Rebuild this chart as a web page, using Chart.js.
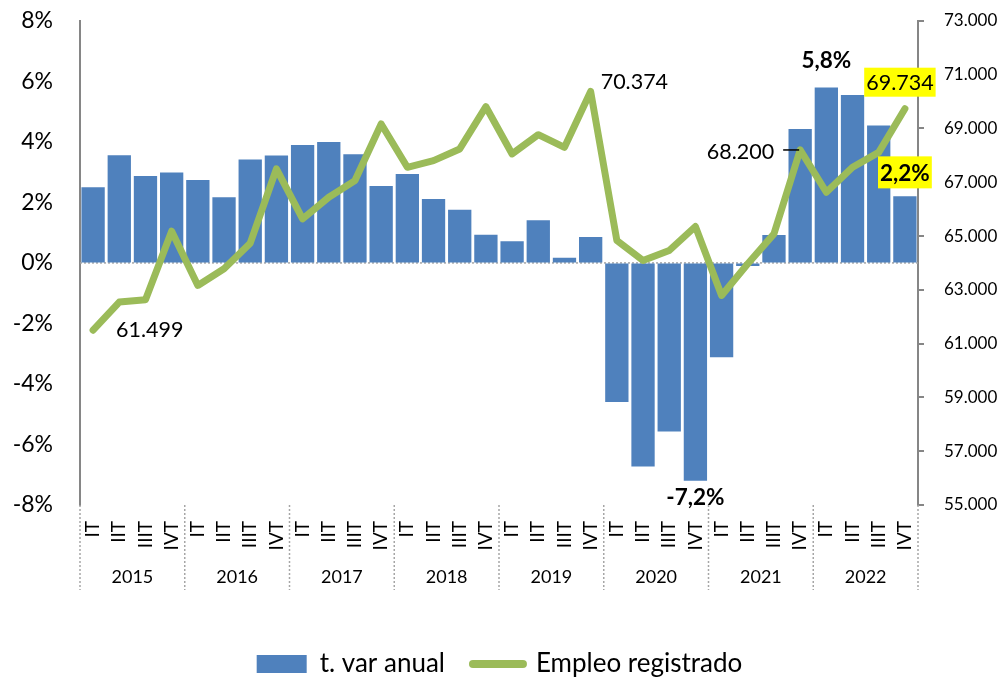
<!DOCTYPE html>
<html>
<head>
<meta charset="utf-8">
<script src="https://cdn.jsdelivr.net/npm/chart.js@4.4.1/dist/chart.umd.min.js"></script>
<style>
  html, body { margin: 0; padding: 0; background: #fff; }
  #wrap { width: 999px; height: 681px; }
</style>
</head>
<body>
<div id="wrap"><canvas id="myChart" width="999" height="681"></canvas></div>
<script>
// quarters and years
const quarters = ["IT", "IIT", "IIIT", "IVT"];
const years = ["2015", "2016", "2017", "2018", "2019", "2020", "2021", "2022"];

// t. var anual (%), left axis
const tasaVar = [2.5, 3.56, 2.87, 2.99, 2.74, 2.17, 3.42, 3.55,
                 3.9, 4.0, 3.59, 2.54, 2.94, 2.11, 1.76, 0.93,
                 0.72, 1.41, 0.17, 0.86, -4.6, -6.73, -5.57, -7.2,
                 -3.12, -0.1, 0.92, 4.43, 5.8, 5.55, 4.54, 2.2];

// Empleo registrado, right axis
const empleo = [61499, 62544, 62632, 65179, 63163, 63783, 64733, 67495,
                65639, 66441, 67061, 69166, 67555, 67803, 68237, 69808,
                68052, 68768, 68297, 70374, 64834, 64091, 64462, 65353,
                62792, 63969, 65082, 68200, 66627, 67555, 68111, 69734];

const labels = [];
years.forEach(function () { quarters.forEach(function (q) { labels.push(q); }); });

const blue = "#4F81BD";
const green = "#9BBB59";
const grey = "#868686";
const fontFamily = "Lato, 'Open Sans', sans-serif";

function fmtMiles(v) {
    return (v / 1000).toFixed(3);
}
function fmtPct(v) {
    return v.toFixed(1).replace(".", ",") + "%";
}

/* zero line, year groups and value labels */
const extras = {
    id: "extras",
    beforeDatasetsDraw(chart) {
        const ctx = chart.ctx;
        const area = chart.chartArea;
        const y0 = chart.scales.y.getPixelForValue(0);
        ctx.save();
        ctx.strokeStyle = "#A6A6A6";
        ctx.lineWidth = 1.5;
        ctx.setLineDash([2, 2]);
        ctx.beginPath();
        ctx.moveTo(area.left, y0);
        ctx.lineTo(area.right, y0);
        ctx.stroke();
        ctx.restore();
    },
    afterDraw(chart) {
        const ctx = chart.ctx;
        const x = chart.scales.x;
        const y = chart.scales.y;
        const y1 = chart.scales.y1;
        const area = chart.chartArea;
        const step = x.getPixelForValue(1) - x.getPixelForValue(0);

        // year separators and labels
        ctx.save();
        ctx.strokeStyle = "#A6A6A6";
        ctx.lineWidth = 1.5;
        ctx.setLineDash([2, 2]);
        for (let g = 0; g <= years.length; g++) {
            const xp = x.getPixelForValue(g * 4) - step / 2;
            ctx.beginPath();
            ctx.moveTo(xp, area.bottom);
            ctx.lineTo(xp, area.bottom + 85);
            ctx.stroke();
        }
        ctx.setLineDash([]);
        ctx.fillStyle = "#000";
        ctx.font = "18px " + fontFamily;
        ctx.textAlign = "center";
        ctx.textBaseline = "middle";
        years.forEach(function (yr, g) {
            const xp = x.getPixelForValue(g * 4 + 1.5);
            ctx.fillText(yr, xp, area.bottom + 72);
        });

        // value labels on the line
        ctx.font = "21.5px " + fontFamily;
        ctx.textAlign = "left";
        ctx.fillText(fmtMiles(empleo[0]), x.getPixelForValue(0) + 23, y1.getPixelForValue(empleo[0]));
        ctx.fillText(fmtMiles(empleo[19]), x.getPixelForValue(19) + 10, y1.getPixelForValue(empleo[19]) - 9);

        ctx.textAlign = "right";
        const p27 = x.getPixelForValue(27);
        const v27 = y1.getPixelForValue(empleo[27]);
        ctx.fillText(fmtMiles(empleo[27]), p27 - 26, v27 + 2);
        ctx.lineWidth = 1.5;
        ctx.strokeStyle = "#000";
        ctx.beginPath();
        ctx.moveTo(p27 - 17, v27);
        ctx.lineTo(p27 - 1, v27);
        ctx.stroke();

        // last value, yellow box
        const last = empleo.length - 1;
        const lx = x.getPixelForValue(last) - 5;
        const ly = y1.getPixelForValue(empleo[last]) - 27;
        const lt = fmtMiles(empleo[last]);
        const lw = ctx.measureText(lt).width + 4;
        ctx.fillStyle = "#FFFF00";
        ctx.fillRect(lx - lw / 2, ly - 14, lw, 29);
        ctx.fillStyle = "#000";
        ctx.textAlign = "center";
        ctx.fillText(lt, lx, ly + 1);

        // bar labels
        ctx.font = "bold 22.5px " + fontFamily;
        ctx.fillText(fmtPct(tasaVar[28]), x.getPixelForValue(28), y.getPixelForValue(tasaVar[28]) - 27);
        ctx.fillText(fmtPct(tasaVar[23]), x.getPixelForValue(23), y.getPixelForValue(tasaVar[23]) + 17);

        const bx = x.getPixelForValue(last);
        const by = y.getPixelForValue(tasaVar[last]) - 24;
        const bt = fmtPct(tasaVar[last]);
        const bw = ctx.measureText(bt).width + 4;
        ctx.fillStyle = "#FFFF00";
        ctx.fillRect(bx - bw / 2, by - 16, bw, 32);
        ctx.fillStyle = "#000";
        ctx.fillText(bt, bx, by + 1);
        ctx.restore();
    }
};

const ctx = document.getElementById("myChart");
new Chart(ctx, {
    data: {
        labels: labels,
        datasets: [
            {
                type: "bar",
                label: "t. var anual",
                data: tasaVar,
                backgroundColor: blue,
                borderWidth: 0,
                barPercentage: 0.89,
                categoryPercentage: 1,
                yAxisID: "y",
                order: 2
            },
            {
                type: "line",
                label: "Empleo registrado",
                data: empleo,
                borderColor: green,
                backgroundColor: green,
                borderWidth: 7,
                borderJoinStyle: "round",
                borderCapStyle: "round",
                pointRadius: 0,
                tension: 0,
                yAxisID: "y1",
                order: 1
            }
        ]
    },
    options: {
        responsive: false,
        animation: false,
        devicePixelRatio: 1,
        layout: { padding: { top: 0, left: 0, right: 0, bottom: -6 } },
        plugins: {
            tooltip: { enabled: false },
            legend: {
                position: "bottom",
                reverse: true,
                labels: {
                    usePointStyle: true,
                    pointStyleWidth: 50,
                    boxHeight: 18,
                    padding: 28,
                    color: "#000",
                    font: { family: fontFamily, size: 26 },
                    generateLabels(chart) {
                        const items = Chart.defaults.plugins.legend.labels.generateLabels(chart);
                        items.forEach(function (it) {
                            const ds = chart.data.datasets[it.datasetIndex];
                            if (ds.type === "line") {
                                it.pointStyle = "line";
                                it.lineWidth = 8;
                                it.strokeStyle = green;
                                it.lineCap = "round";
                            } else {
                                it.pointStyle = "rect";
                                it.lineWidth = 0;
                                it.fillStyle = blue;
                            }
                        });
                        return items;
                    }
                }
            }
        },
        scales: {
            x: {
                type: "category",
                offset: true,
                grid: { display: false, drawTicks: false },
                border: { display: false },
                ticks: {
                    autoSkip: false,
                    minRotation: 90,
                    maxRotation: 90,
                    padding: 16,
                    color: "#000",
                    font: { family: fontFamily, size: 19 }
                },
                afterFit(scale) { scale.height = 118; }
            },
            y: {
                position: "left",
                min: -8,
                max: 8,
                // invisible tick marks keep the labels away from the axis
                grid: { display: true, drawOnChartArea: false, drawTicks: true, tickLength: 22, color: "rgba(0,0,0,0)" },
                border: { display: true, color: grey, width: 2 },
                ticks: {
                    stepSize: 2,
                    padding: 5,
                    color: "#000",
                    font: { family: fontFamily, size: 23, lineHeight: 1 },
                    callback: function (v) { return v + "%"; }
                },
                afterFit(scale) { scale.width = 80; }
            },
            y1: {
                position: "right",
                min: 55000,
                max: 73000,
                grid: { display: true, drawOnChartArea: false, drawTicks: true, tickLength: 6, color: grey, lineWidth: 2 },
                border: { display: true, color: grey, width: 2 },
                ticks: {
                    stepSize: 2000,
                    padding: 20,
                    color: "#000",
                    font: { family: fontFamily, size: 17, lineHeight: 0.1 },
                    callback: function (v) { return fmtMiles(v); }
                },
                afterFit(scale) { scale.width = 81; }
            }
        }
    },
    plugins: [extras]
});
</script>
</body>
</html>
